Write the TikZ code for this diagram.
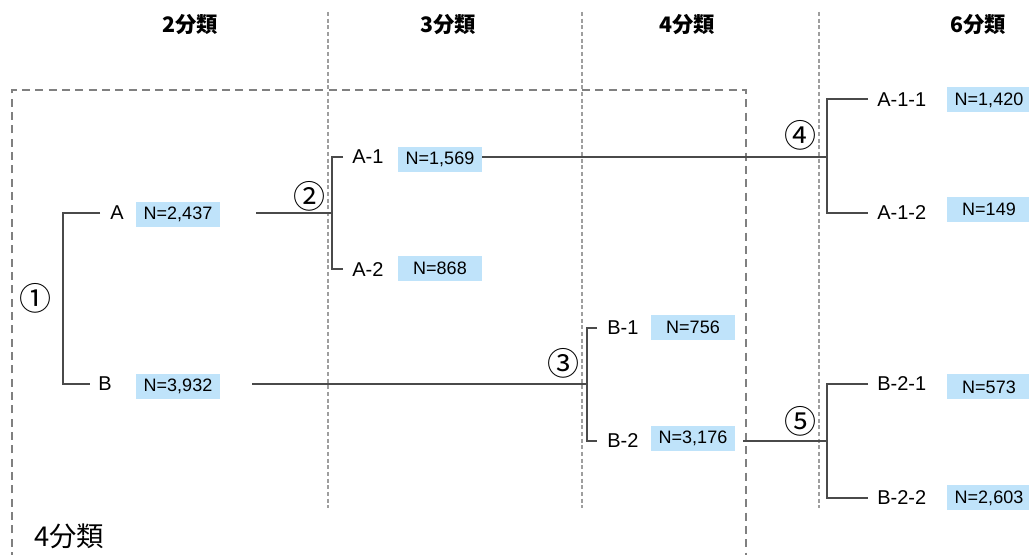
\documentclass[tikz,border=0pt]{standalone}
\usepackage{fontspec}
\setmainfont{Liberation Sans}
\newfontfamily\cjk{Noto Sans CJK JP}
\definecolor{nblue}{HTML}{BFE3FA}
\definecolor{tline}{HTML}{4A4A4A}
\tikzset{
  tree/.style={draw=tline, line width=1.1pt},
  guide/.style={draw=black!38, line width=0.8pt, dash pattern=on 3pt off 2pt},
  frame/.style={draw=black!50, line width=1.3pt, dash pattern=on 6pt off 4pt},
  lab/.style={font=\fontsize{15}{18}\selectfont, inner sep=0pt, anchor=west},
  nbox/.style={fill=nblue, minimum width=63pt, minimum height=18.75pt, inner sep=0pt, font=\fontsize{13.5}{16}\selectfont},
  circ/.style={font=\cjk\fontsize{24}{26}\selectfont, inner sep=0pt},
  hdr/.style={font=\cjk\bfseries\fontsize{16}{18}\selectfont, inner sep=0pt}
}
\begin{document}
\begin{tikzpicture}[x=0.75pt,y=-0.75pt]
\useasboundingbox (0,0) rectangle (1029,555);
% headers
\node[hdr] (h2) at (190,25) {2分類};
\node[hdr] (h3) at (448,25) {3分類};
\node[hdr] (h4) at (687,25) {4分類};
\node[hdr] (h6) at (978,25) {6分類};
% guides
\draw[guide] (328,12) -- (328,508);
\draw[guide] (582,12) -- (582,508);
\draw[guide] (819,12) -- (819,508);
% frame
\draw[frame] (12,560) -- (12,90) -- (746,90) -- (746,560);
\node[font=\cjk\fontsize{20.5}{22}\selectfont, inner sep=0pt] (f4) at (69,536) {4分類};
% labels
\node[lab] (A) at (110,213) {A};
\node[lab] (B) at (98,384) {B};
\node[lab] (A1) at (352,157) {A-1};
\node[lab] (A2) at (352,270) {A-2};
\node[lab] (B1) at (607,328) {B-1};
\node[lab] (B2) at (607,441) {B-2};
\node[lab] (A11) at (877,100) {A-1-1};
\node[lab] (A12) at (877,213) {A-1-2};
\node[lab] (B21) at (877,384) {B-2-1};
\node[lab] (B22) at (877,498) {B-2-2};
% N boxes
\node[nbox] (nA) at (178,214.5) {N=2,437};
\node[nbox] (nB) at (178,386.5) {N=3,932};
\node[nbox] (nA1) at (440,159.5) {N=1,569};
\node[nbox] (nA2) at (440,268.5) {N=868};
\node[nbox] (nB1) at (693,327.5) {N=756};
\node[nbox] (nB2) at (693,438.5) {N=3,176};
\node[nbox] (nA11) at (989,100) {N=1,420};
\node[nbox] (nA12) at (989,209.5) {N=149};
\node[nbox] (nB21) at (989,387) {N=573};
\node[nbox] (nB22) at (989,498) {N=2,603};
% circled numbers
\node[circ] (c1) at (36,298) {①};
\node[circ] (c2) at (309,196) {②};
\node[circ] (c3) at (563,363) {③};
\node[circ] (c4) at (800,135) {④};
\node[circ] (c5) at (800,421) {⑤};
% junction coordinates
\coordinate (s1a) at (100,213); \coordinate (j1a) at (63,213);
\coordinate (j1b) at (63,384); \coordinate (s1b) at (90,384);
\coordinate (o2) at (256,213); \coordinate (j2) at (332,213);
\coordinate (j2a) at (332,157); \coordinate (j2b) at (332,269);
\coordinate (s2a) at (343,157); \coordinate (s2b) at (343,269);
\coordinate (o3) at (252,384); \coordinate (j3) at (587,384);
\coordinate (j3a) at (587,328); \coordinate (j3b) at (587,441);
\coordinate (s3a) at (597,328); \coordinate (s3b) at (597,441);
\coordinate (o4) at (482,157); \coordinate (j4) at (827,157);
\coordinate (j4a) at (827,99); \coordinate (j4b) at (827,213);
\coordinate (s4a) at (868,99); \coordinate (s4b) at (868,213);
\coordinate (o5) at (743,441); \coordinate (j5) at (827,441);
\coordinate (j5a) at (827,384); \coordinate (j5b) at (827,498);
\coordinate (s5a) at (868,384); \coordinate (s5b) at (868,498);
% connectors
\draw[tree] (s1a) -- (j1a) -- (j1b) -- (s1b);
\draw[tree] (o2) -- (j2);
\draw[tree] (s2a) -- (j2a) -- (j2b) -- (s2b);
\draw[tree] (o3) -- (j3);
\draw[tree] (s3a) -- (j3a) -- (j3b) -- (s3b);
\draw[tree] (o4) -- (j4);
\draw[tree] (s4a) -- (j4a) -- (j4b) -- (s4b);
\draw[tree] (o5) -- (j5);
\draw[tree] (s5a) -- (j5a) -- (j5b) -- (s5b);
\end{tikzpicture}
\end{document}
